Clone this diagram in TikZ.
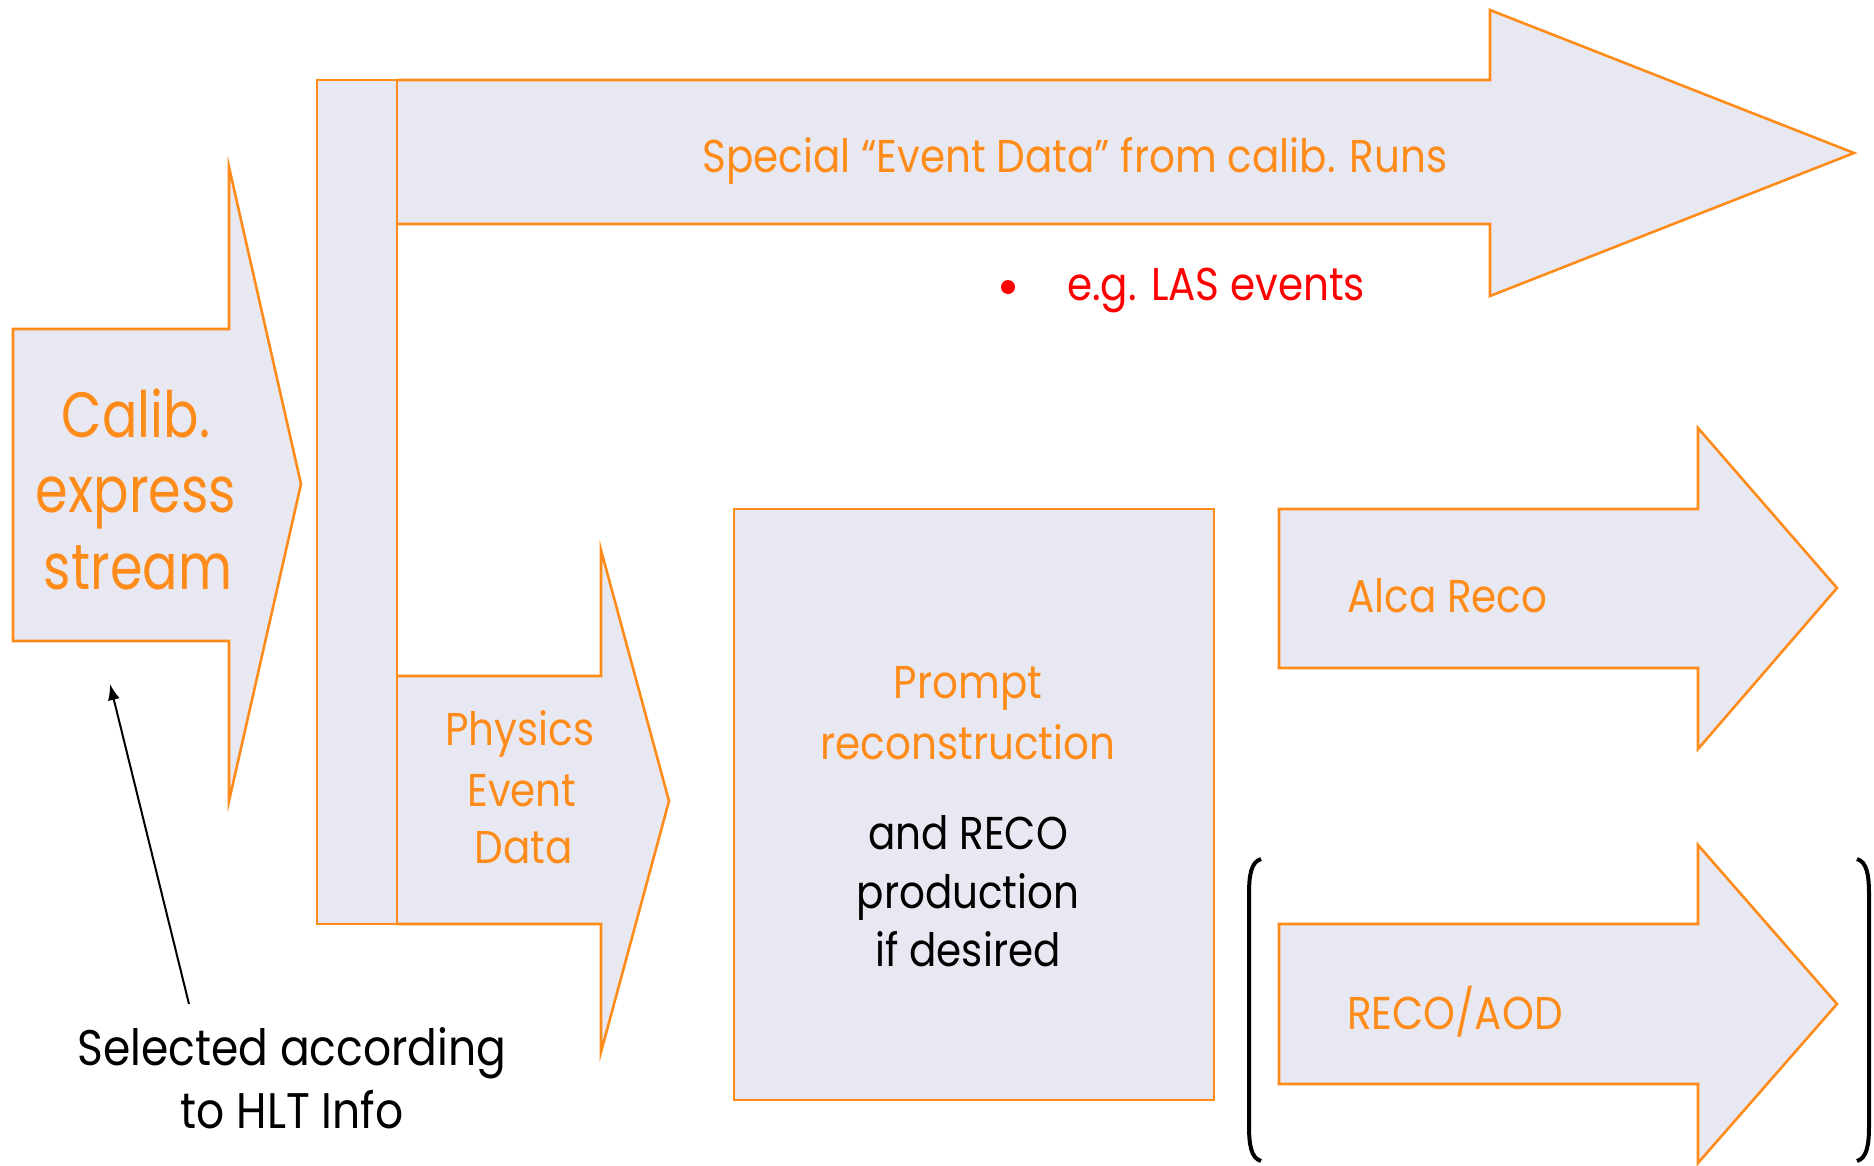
\documentclass[tikz,border=0pt]{standalone}
\usepackage{fontspec}
\setmainfont{Poppins}[FakeStretch=0.88]
\newfontfamily\narrowfont{Poppins}[FakeStretch=0.82]
\usetikzlibrary{arrows.meta}
\definecolor{orng}{RGB}{255,140,26}
\definecolor{lav}{RGB}{232,232,242}
\definecolor{redtxt}{RGB}{255,0,0}
\tikzset{
  flow/.style={draw=orng, fill=lav, line width=2.6pt, line join=miter},
  otext/.style={text=orng, font=\fontsize{46}{58}\selectfont, align=center, inner sep=0pt},
  btext/.style={text=black, font=\fontsize{46}{58}\selectfont, align=center, inner sep=0pt},
  seltext/.style={text=black, font=\fontsize{50}{60}\selectfont, align=center, inner sep=0pt},
  rtext/.style={text=redtxt, font=\fontsize{46}{54}\selectfont, inner sep=0pt},
  bigtext/.style={text=orng, font=\narrowfont\fontsize{64}{76}\selectfont, align=center, inner sep=0pt},
  bracket/.style={draw=black, line width=4pt},
  note/.style={draw=black, line width=2pt, -{Latex[length=16pt,width=12pt]}}
}
\begin{document}
\begin{tikzpicture}[x=1pt,y=-1pt]
\useasboundingbox (0,0) rectangle (1874,1165);
% Calib express stream arrow
\draw[flow] (13,329) -- (229,329) -- (229,167) -- (301,484) -- (229,801) -- (229,641) -- (13,641) -- cycle;
% top arrow
\draw[flow] (397,80) -- (1490,80) -- (1490,10) -- (1854,153) -- (1490,296) -- (1490,224) -- (397,224);
% physics arrow
\draw[flow] (397,676) -- (601,676) -- (601,550) -- (669,801) -- (601,1052) -- (601,924) -- (397,924);
% vertical bar
\draw[flow] (317,80) rectangle (397,924);
% prompt box
\draw[flow] (734,509) rectangle (1214,1100);
% Alca Reco arrow
\draw[flow] (1279,509) -- (1698,509) -- (1698,428) -- (1837,588) -- (1698,749) -- (1698,668) -- (1279,668) -- cycle;
% RECO/AOD arrow
\draw[flow] (1279,924) -- (1698,924) -- (1698,845) -- (1837,1004) -- (1698,1163) -- (1698,1084) -- (1279,1084) -- cycle;
% brackets
\draw[bracket] (1261,859) .. controls (1251,862) and (1249,875) .. (1249,895) -- (1249,1125) .. controls (1249,1145) and (1251,1158) .. (1261,1161);
\draw[bracket] (1857,859) .. controls (1867,862) and (1869,875) .. (1869,895) -- (1869,1125) .. controls (1869,1145) and (1867,1158) .. (1857,1161);
% texts
\node[bigtext, anchor=base] (calib1) at (136,437) {Calib.};
\node[bigtext, anchor=base] (calib2) at (136,512) {express};
\node[bigtext, anchor=base] (calib3) at (138,589) {stream};
\node[otext, anchor=base] (special) at (1075,172) {Special “Event Data” from calib. Runs};
\fill[redtxt] (1008,287) circle (7);
\node[rtext, anchor=base west] (las) at (1067,300) {e.g. LAS events};
\node[otext, anchor=base] (phys1) at (520,745) {Physics};
\node[otext, anchor=base] (phys2) at (522,806) {Event};
\node[otext, anchor=base] (phys3) at (524,863) {Data};
\node[otext, anchor=base] (prompt1) at (968,698) {Prompt};
\node[otext, anchor=base] (prompt2) at (968,759) {reconstruction};
\node[btext, anchor=base] (reco1) at (968,849) {and RECO};
\node[btext, anchor=base] (reco2) at (968,908) {production};
\node[btext, anchor=base] (reco3) at (968,966) {if desired};
\node[otext, anchor=base west] (alca) at (1347,612) {Alca Reco};
\node[otext, anchor=base west] (recoaod) at (1347,1029) {RECO/AOD};
\node[seltext, anchor=base] (sel1) at (292,1065) {Selected according};
\node[seltext, anchor=base] (sel2) at (292,1128) {to HLT Info};
\coordinate (notestart) at (189,1004);
\coordinate (noteend) at (110,684);
\draw[note] (notestart) -- (noteend);
\end{tikzpicture}
\end{document}
